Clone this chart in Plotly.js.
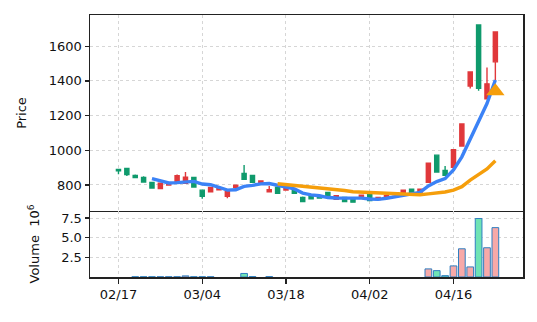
<!DOCTYPE html>
<html>
<head>
<meta charset="utf-8">
<script src="https://cdn.plot.ly/plotly-3.0.1.min.js"></script>
<style>
html,body{margin:0;padding:0;background:#fff;}
#chart{width:537px;height:322px;}
</style>
</head>
<body>
<div id="chart"></div>
<script>
// Trading-day data (index 0 = 02/17)
const opens  = [890,895,855,843,815,780,800,820,810,843,770,760,772,735,786,866,855,815,760,787,771,770,728,738,735,757,717,728,722,724,745,716,735,745,752,776,752,815,972,884,902,1025,1370,1722,1297,1510];
const highs  = [891,897,860,850,818,812,812,860,875,846,772,789,783,765,802,915,858,825,794,790,787,775,733,740,737,760,740,730,724,743,748,730,740,750,771,778,778,927,975,910,1005,1156,1455,1725,1477,1685];
const lows   = [862,852,840,815,780,778,798,818,808,786,720,757,768,724,781,828,813,813,756,750,769,750,703,718,722,733,715,703,699,722,708,714,730,740,750,750,750,813,873,853,900,1023,1356,1343,1293,1404];
const closes = [881,860,843,817,782,810,806,853,845,788,735,786,780,762,799,833,815,823,772,752,786,752,705,720,725,735,738,705,701,741,710,728,738,748,770,752,776,925,875,856,1003,1152,1452,1357,1383,1682];
const volumes = [0,0,0.03,0.03,0.03,0.03,0.03,0.03,0.14,0.03,0.03,0.03,0,0,0,0.45,0.05,0,0.05,0,0,0,0,0,0,0,0,0,0,0,0,0,0,0,0,0,0,1.03,0.81,0.17,1.41,3.59,1.28,7.44,3.72,6.28];
const tickIndex = [0,10,20,30,40];
const tickLabels = ['02/17','03/04','03/18','04/02','04/16'];
const signalIndex = [45];
const signalPrice = [1340];

const idx = closes.map((_, i) => i);
function movingAverage(vals, n) {
  const xs = [], ys = [];
  for (let i = n - 1; i < vals.length; i++) {
    let s = 0;
    for (let k = i - n + 1; k <= i; k++) s += vals[k];
    xs.push(i); ys.push(s / n);
  }
  return {xs, ys};
}
const ma5 = movingAverage(closes, 5);
const ma20 = movingAverage(closes, 20);

const RED = '#e0383b', GREEN = '#0f9a6c';
const volColors = closes.map((c, i) => c >= opens[i] ? '#f7a9a8' : '#6fe3b4');
const volEdgeWidths = volumes.map(v => v > 0 ? 1 : 0);

const font = {family: 'DejaVu Sans, sans-serif', size: 13, color: '#111'};

const traces = [
  {
    type: 'candlestick', x: idx, open: opens, high: highs, low: lows, close: closes,
    xaxis: 'x', yaxis: 'y',
    increasing: {line: {color: RED, width: 1.4}, fillcolor: RED},
    decreasing: {line: {color: GREEN, width: 1.4}, fillcolor: GREEN},
    whiskerwidth: 0, hoverinfo: 'skip', showlegend: false
  },
  {
    type: 'scatter', mode: 'lines', x: ma5.xs, y: ma5.ys, xaxis: 'x', yaxis: 'y',
    line: {color: '#3b82f6', width: 3.4}, showlegend: false, hoverinfo: 'skip'
  },
  {
    type: 'scatter', mode: 'lines', x: ma20.xs, y: ma20.ys, xaxis: 'x', yaxis: 'y',
    line: {color: '#f59e0b', width: 3.4}, showlegend: false, hoverinfo: 'skip'
  },
  {
    type: 'scatter', mode: 'markers', x: signalIndex, y: signalPrice, xaxis: 'x', yaxis: 'y',
    marker: {symbol: 'triangle-up', size: 16, color: '#f59e0b'}, showlegend: false, hoverinfo: 'skip'
  },
  {
    type: 'bar', x: idx, y: volumes, xaxis: 'x2', yaxis: 'y2', width: 0.8,
    marker: {color: volColors, line: {color: '#2f7fc1', width: volEdgeWidths}},
    showlegend: false, hoverinfo: 'skip'
  }
];

const gridCommon = {showgrid: true, gridcolor: '#d6d6d6', griddash: 'dot', gridwidth: 1, zeroline: false,
  showline: true, linecolor: '#222', linewidth: 1.5};
const xr = [-3.4, 48.3];

const layout = {
  width: 537, height: 322,
  margin: {l: 90, r: 14, t: 15, b: 45},
  paper_bgcolor: '#fff', plot_bgcolor: '#fff',
  font: font,
  showlegend: false,
  bargap: 0,
  xaxis: Object.assign({}, gridCommon, {
    anchor: 'y', mirror: true, range: xr, tickvals: tickIndex, ticktext: tickLabels,
    showticklabels: false, ticks: '', rangeslider: {visible: false}
  }),
  xaxis2: Object.assign({}, gridCommon, {
    anchor: 'y2', mirror: false, matches: 'x', range: xr, tickvals: tickIndex, ticktext: tickLabels,
    ticks: 'outside', ticklen: 5, tickwidth: 1.3, tickcolor: '#222',
    tickfont: {family: 'DejaVu Sans, sans-serif', size: 13, color: '#111'}
  }),
  yaxis: Object.assign({}, gridCommon, {
    mirror: true,
    domain: [0.252, 1], range: [650, 1780], tickvals: [800,1000,1200,1400,1600],
    ticks: 'outside', ticklen: 4, tickwidth: 1.3, tickcolor: '#222',
    title: {text: 'Price', font: {family: 'DejaVu Sans, sans-serif', size: 13}, standoff: 19}
  }),
  yaxis2: Object.assign({}, gridCommon, {
    mirror: true,
    domain: [0, 0.252], range: [0, 8.4], tickvals: [2.5, 5, 7.5], ticktext: ['2.5','5.0','7.5'],
    ticks: 'outside', ticklen: 4, tickwidth: 1.3, tickcolor: '#222',
    title: {text: 'Volume  10<sup>6</sup>', font: {family: 'DejaVu Sans, sans-serif', size: 13}, standoff: 18}
  })
};

Plotly.newPlot('chart', traces, layout, {staticPlot: true, displayModeBar: false});
</script>
</body>
</html>
